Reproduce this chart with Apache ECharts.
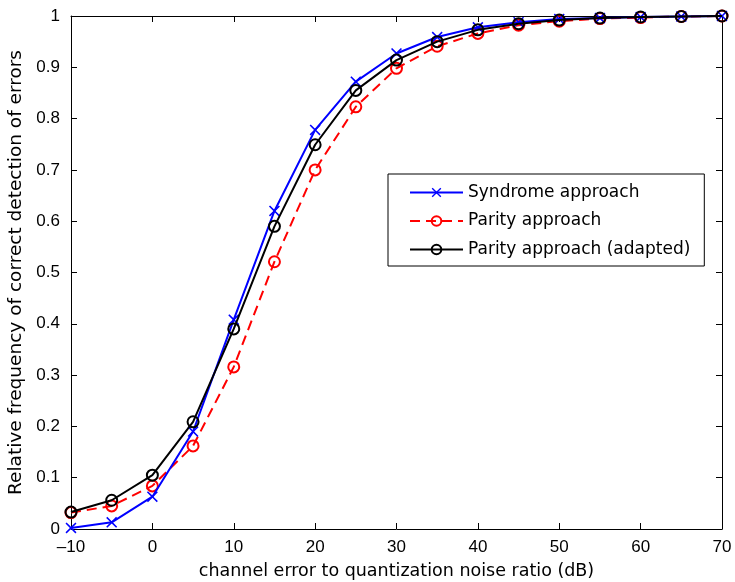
<!DOCTYPE html>
<html>
<head>
<meta charset="utf-8">
<script src="https://cdn.jsdelivr.net/npm/echarts@6/dist/echarts.min.js"></script>
<style>
  html, body { margin: 0; padding: 0; background: #fff; }
  #main { width: 735px; height: 582px; }
</style>
</head>
<body>
<div id="main"></div>
<script>
// channel error to quantization noise ratio (dB)
var snr = [-10, -5, 0, 5, 10, 15, 20, 25, 30, 35, 40, 45, 50, 55, 60, 65, 70];
var syndrome = [0.002, 0.013, 0.063, 0.19, 0.408, 0.62, 0.778, 0.872, 0.927, 0.959, 0.978, 0.988, 0.994, 0.996, 0.998, 0.999, 1.0];
var parity = [0.032, 0.045, 0.084, 0.162, 0.316, 0.521, 0.70, 0.823, 0.898, 0.941, 0.966, 0.982, 0.99, 0.995, 0.997, 0.999, 1.0];
var adapted = [0.033, 0.056, 0.105, 0.209, 0.39, 0.59, 0.749, 0.855, 0.914, 0.95, 0.973, 0.985, 0.992, 0.996, 0.998, 0.999, 1.0];
var seriesNames = ['Syndrome approach', 'Parity approach', 'Parity approach (adapted)'];

function pairs(ys) {
  return snr.map(function (x, i) { return [x, ys[i]]; });
}

var tickFont = 'Liberation Sans, Arial, Helvetica, sans-serif';
var textFont = 'DejaVu Sans, sans-serif';
var crossPath = 'path://M0,1 L1,0 L5,4 L9,0 L10,1 L6,5 L10,9 L9,10 L5,6 L1,10 L0,9 L4,5 Z';

var myChart = echarts.init(document.getElementById('main'));

var xCommon = {
  type: 'value', min: -10, max: 70, interval: 10,
  axisLine: { show: true, onZero: false, lineStyle: { color: '#000', width: 1 } },
  axisTick: { show: true, inside: true, length: 6, lineStyle: { color: '#000' } },
  splitLine: { show: false }
};
var yCommon = {
  type: 'value', min: 0, max: 1, interval: 0.1,
  axisLine: { show: true, onZero: false, lineStyle: { color: '#000', width: 1 } },
  axisTick: { show: true, inside: true, length: 6, lineStyle: { color: '#000' } },
  splitLine: { show: false }
};

var option = {
  animation: false,
  backgroundColor: '#fff',
  grid: { left: 71, right: 13, top: 16, bottom: 53, outerBoundsMode: 'none', containLabel: false },
  legend: {
    orient: 'vertical',
    left: 388, top: 174,
    padding: [10, 14, 8, 21],
    itemGap: 11.5,
    itemWidth: 53, itemHeight: 12,
    backgroundColor: '#fff',
    borderColor: '#000', borderWidth: 1,
    textStyle: { fontFamily: textFont, fontSize: 17, color: '#000' },
    data: seriesNames
  },
  xAxis: [
    Object.assign({}, xCommon, {
      position: 'bottom',
      name: 'channel error to quantization noise ratio (dB)',
      nameLocation: 'middle', nameGap: 33,
      nameTextStyle: { fontFamily: textFont, fontSize: 17.5, color: '#000' },
      axisLabel: {
        color: '#000', fontSize: 17, fontFamily: tickFont, margin: 10,
        formatter: function (v) { return String(v).replace('-', '\u2013'); }
      }
    }),
    Object.assign({}, xCommon, { position: 'top', axisLabel: { show: false } })
  ],
  yAxis: [
    Object.assign({}, yCommon, {
      position: 'left',
      name: 'Relative frequency of correct detection of errors',
      nameLocation: 'middle', nameGap: 42,
      nameTextStyle: { fontFamily: textFont, fontSize: 18.5, color: '#000' },
      axisLabel: {
        color: '#000', fontSize: 17, fontFamily: tickFont, margin: 11,
        formatter: function (v) { return String(Math.round(v * 10) / 10); }
      }
    }),
    Object.assign({}, yCommon, { position: 'right', axisLabel: { show: false } })
  ],
  series: [
    {
      name: seriesNames[0], type: 'line', data: pairs(syndrome),
      symbol: crossPath, symbolSize: 11, showAllSymbol: true,
      itemStyle: { color: '#0000ff' },
      lineStyle: { color: '#0000ff', width: 2 },
      z: 3
    },
    {
      name: seriesNames[1], type: 'line', data: pairs(parity),
      symbol: 'circle', symbolSize: 11, showAllSymbol: true,
      itemStyle: { color: 'rgba(0,0,0,0)', borderColor: '#ff0000', borderWidth: 2 },
      lineStyle: { color: '#ff0000', width: 2, type: [10, 6] },
      z: 2
    },
    {
      name: seriesNames[2], type: 'line', data: pairs(adapted),
      symbol: 'circle', symbolSize: 11, showAllSymbol: true,
      itemStyle: { color: 'rgba(0,0,0,0)', borderColor: '#000000', borderWidth: 2 },
      lineStyle: { color: '#000000', width: 2 },
      z: 4
    }
  ]
};

myChart.setOption(option);
</script>
</body>
</html>
